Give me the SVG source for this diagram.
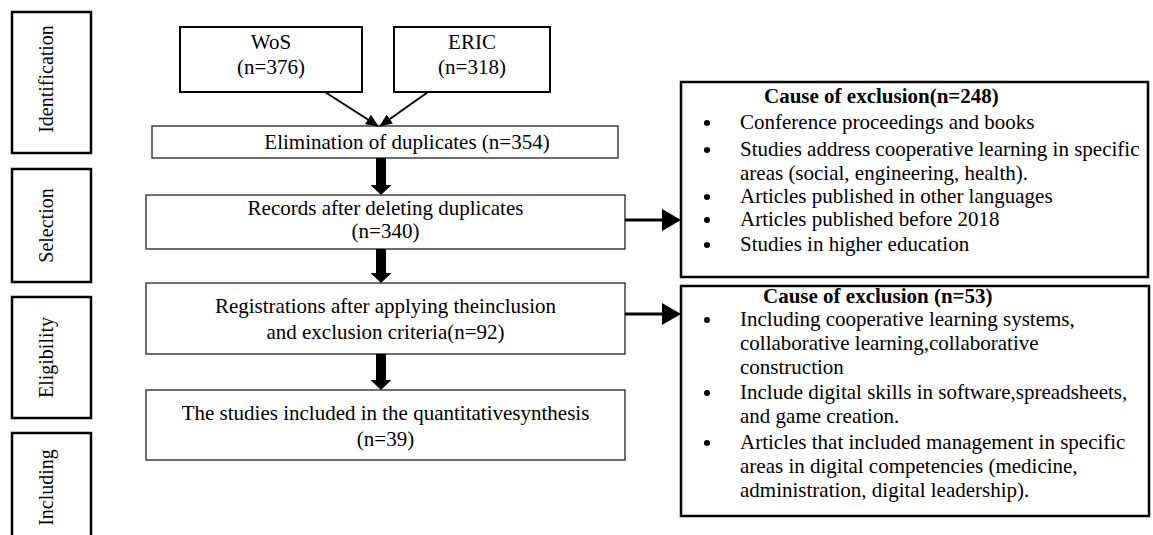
<svg xmlns="http://www.w3.org/2000/svg" width="1153" height="535" viewBox="0 0 1153 535" font-family="'Liberation Serif', Tinos, 'DejaVu Serif', serif">
<style>
text{fill:#000}
.t{font-size:21px}
.c{text-anchor:middle}
.b{font-weight:bold}
.stage{font-size:20px;text-anchor:middle}
.sbox{fill:#fff;stroke:#000;stroke-width:2.5}
.src{fill:#fff;stroke:#000;stroke-width:2}
.flow{fill:#fff;stroke:#222;stroke-width:1.3}
.cause{fill:#fff;stroke:#000;stroke-width:2.5}
.ln{stroke:#000;stroke-width:2;fill:none}
.ln3{stroke:#000;stroke-width:3;fill:none}
.hd{fill:#000}
</style>
<defs>
<marker id="ah" markerWidth="13" markerHeight="11" refX="12" refY="5.5" orient="auto" markerUnits="userSpaceOnUse">
<path d="M0,0 L13,5.5 L0,11 Z" fill="#000"/>
</marker>
</defs>
<rect width="1153" height="535" fill="#fff"/>

<g id="stage-identification">
<rect class="sbox" x="12" y="12" width="79" height="141"/>
<text class="stage" transform="translate(53,79) rotate(-90)">Identification</text>
</g>
<g id="stage-selection">
<rect class="sbox" x="12" y="169" width="79" height="113"/>
<text class="stage" transform="translate(53,225.5) rotate(-90)">Selection</text>
</g>
<g id="stage-eligibility">
<rect class="sbox" x="12" y="297" width="79" height="121"/>
<text class="stage" transform="translate(53,357.5) rotate(-90)">Eligibility</text>
</g>
<g id="stage-including">
<rect class="sbox" x="12" y="433" width="79" height="110"/>
<text class="stage" transform="translate(53,487.5) rotate(-90)">Including</text>
</g>

<g id="wos">
<rect class="src" x="180" y="27" width="182" height="65"/>
<text class="t c" x="271" y="49">WoS</text>
<text class="t c" x="271" y="74">(n=376)</text>
</g>
<g id="eric">
<rect class="src" x="394" y="27" width="156" height="65"/>
<text class="t c" x="472" y="49">ERIC</text>
<text class="t c" x="472" y="74">(n=318)</text>
</g>

<g id="elimination">
<rect class="flow" x="152" y="126" width="466" height="32"/>
<text class="t c" x="407" y="149">Elimination of duplicates (n=354)</text>
</g>
<g id="records">
<rect class="flow" x="146" y="195" width="479" height="54"/>
<text class="t c" x="385.5" y="215">Records after deleting duplicates</text>
<text class="t c" x="385.5" y="238">(n=340)</text>
</g>
<g id="registrations">
<rect class="flow" x="146" y="283" width="479" height="71"/>
<text class="t c" x="385.5" y="313">Registrations after applying theinclusion</text>
<text class="t c" x="385.5" y="339">and exclusion criteria(n=92)</text>
</g>
<g id="studies">
<rect class="flow" x="146" y="390" width="479" height="70"/>
<text class="t c" x="385.5" y="420">The studies included in the quantitativesynthesis</text>
<text class="t c" x="385.5" y="446">(n=39)</text>
</g>

<g id="cause-248">
<rect class="cause" x="681" y="82" width="467" height="195"/>
<text class="t b" x="764" y="103">Cause of exclusion(n=248)</text>
<circle cx="707" cy="123" r="3"/>
<text class="t" x="740" y="129">Conference proceedings and books</text>
<circle cx="707" cy="150" r="3"/>
<text class="t" x="740" y="156">Studies address cooperative learning in specific</text>
<text class="t" x="740" y="180">areas (social, engineering, health).</text>
<circle cx="707" cy="197" r="3"/>
<text class="t" x="740" y="203">Articles published in other languages</text>
<circle cx="707" cy="220" r="3"/>
<text class="t" x="740" y="226">Articles published before 2018</text>
<circle cx="707" cy="245" r="3"/>
<text class="t" x="740" y="251">Studies in higher education</text>
</g>

<g id="cause-53">
<rect class="cause" x="681" y="286" width="468" height="230"/>
<text class="t b" x="763" y="303">Cause of exclusion (n=53)</text>
<circle cx="707" cy="320" r="3"/>
<text class="t" x="740" y="326">Including cooperative learning systems,</text>
<text class="t" x="740" y="350">collaborative learning,collaborative</text>
<text class="t" x="740" y="374">construction</text>
<circle cx="707" cy="393" r="3"/>
<text class="t" x="740" y="399">Include digital skills in software,spreadsheets,</text>
<text class="t" x="740" y="423">and game creation.</text>
<circle cx="707" cy="443" r="3"/>
<text class="t" x="740" y="449">Articles that included management in specific</text>
<text class="t" x="740" y="473">areas in digital competencies (medicine,</text>
<text class="t" x="740" y="497">administration, digital leadership).</text>
</g>

<g id="connectors">
<line class="ln" x1="325" y1="92" x2="378" y2="126" marker-end="url(#ah)"/>
<line class="ln" x1="428" y1="92" x2="380" y2="126" marker-end="url(#ah)"/>
<polygon class="hd" points="376,158 386,158 386,185 391.5,185 381,195 370.5,185 376,185"/>
<polygon class="hd" points="376,249 386,249 386,273 391.5,273 381,283 370.5,273 376,273"/>
<polygon class="hd" points="376,354 386,354 386,380 391.5,380 381,390 370.5,380 376,380"/>
<line class="ln3" x1="625" y1="220" x2="664" y2="220"/>
<polygon class="hd" points="662,209 681,220 662,231"/>
<line class="ln3" x1="625" y1="314" x2="664" y2="314"/>
<polygon class="hd" points="662,303 681,314 662,325"/>
</g>
</svg>
